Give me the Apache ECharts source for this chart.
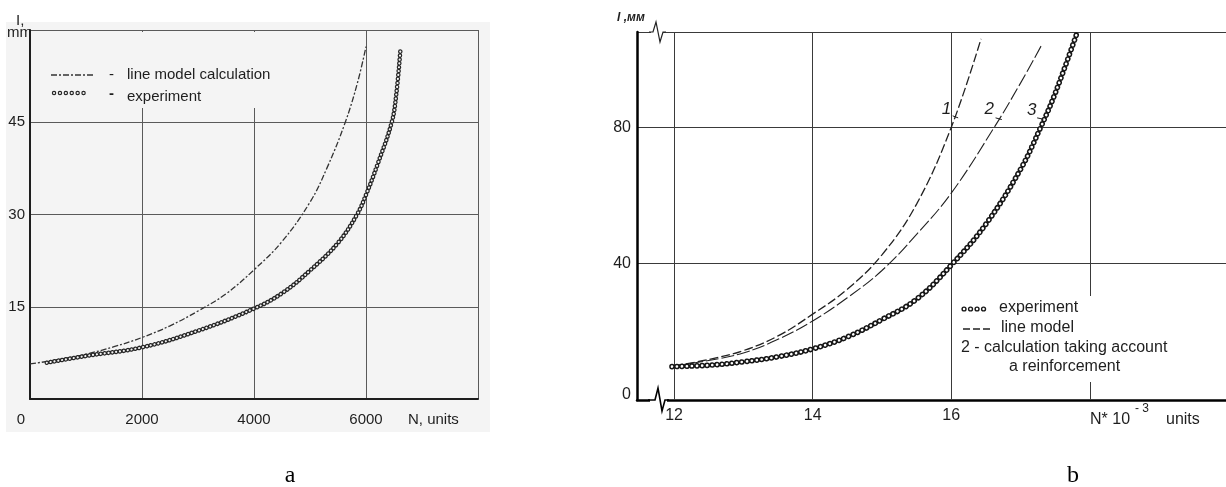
<!DOCTYPE html>
<html>
<head>
<meta charset="utf-8">
<script src="https://cdn.jsdelivr.net/npm/echarts@6/dist/echarts.min.js"></script>
<style>
  html, body { margin: 0; padding: 0; background: #fff; }
  #chart { width: 1226px; height: 487px; }
</style>
</head>
<body>
<div id="chart"></div>
<script>
// panel a: crack length l (mm) against N (units)
const modelA_N = [0, 500, 1000, 1500, 2000, 2500, 3000, 3500, 4000, 4500, 5000, 5300, 5630, 5850, 6000];
const modelA_L = [5.7, 6.4, 7.3, 8.5, 10.0, 11.9, 14.3, 17.1, 21.0, 25.6, 32.0, 37.5, 45.0, 51.5, 57.3];
const expA_N = [300, 1000, 2000, 3000, 4000, 4500, 5000, 5500, 5840, 6000, 6200, 6460, 6540, 6615];
const expA_L = [5.9, 7.0, 8.4, 11.1, 14.7, 17.2, 20.9, 25.4, 30.0, 33.2, 38.0, 45.0, 49.5, 56.8];
const ticksA_X = [0, 2000, 4000, 6000];
const ticksA_Y = [15, 30, 45];

// panel b: l (mm) against N*10^-3 units, curves 1, 2, 3
const model1_N = [12, 12.5, 13, 13.5, 14, 14.5, 15, 15.5, 16, 16.43];
const model1_L = [10, 11.9, 14.5, 18.8, 25.2, 32.5, 42.6, 57.5, 80, 106];
const model2_N = [12, 12.5, 13, 13.5, 14, 14.5, 15, 15.5, 16, 16.62, 17, 17.3];
const model2_L = [10, 11.6, 13.8, 17.8, 23.2, 30.0, 38.0, 48.6, 60.7, 80, 93, 104];
const expB_N = [11.97, 12.5, 13, 13.5, 14, 14.5, 15, 15.5, 16, 16.5, 17, 17.29, 17.5, 17.82];
const expB_L = [9.8, 10.2, 11.2, 12.7, 15.0, 18.5, 23.6, 29.6, 39.6, 51.6, 67.7, 80, 90, 108];
const ticksB_X = [12, 14, 16];
const gridB_X = [12, 14, 16, 18];
const curveTags = [['1', 15.93, 85.4], ['2', 16.55, 85.4], ['3', 17.16, 85.1]];

const FONT = 'Liberation Sans, Arial, sans-serif';
const INK = '#1e1e1e';
const PANEL_BG = '#f4f4f4';

const zip = (xs, ys) => xs.map((x, i) => [x, ys[i]]);

function ringSeries(name, xi, data, color, bg, outer, inner, gap, extra) {
  // chain of small hollow circles: dark round dots with a background-coloured core
  const base = {
    type: 'line', name, xAxisIndex: xi, yAxisIndex: xi, data,
    smooth: 0.4, showSymbol: false, silent: true, z: 3
  };
  return [
    Object.assign({}, base, {
      lineStyle: { color, width: outer, type: [0.1, gap], cap: 'round' }
    }, extra || {}),
    Object.assign({}, base, {
      name: name + '-core', z: 4,
      lineStyle: { color: bg, width: inner, type: [0.1, gap], cap: 'round' }
    })
  ];
}

const chart = echarts.init(document.getElementById('chart'), null, { renderer: 'canvas' });

const option = {
  animation: false,
  backgroundColor: '#fff',
  textStyle: { fontFamily: FONT },
  grid: [
    { left: 30, top: 30, width: 448, height: 369, outerBoundsMode: 'none' },
    { left: 637, top: 32, width: 590, height: 368, outerBoundsMode: 'none' }
  ],
  xAxis: [
    {
      type: 'value', gridIndex: 0, min: 0, max: 8000, interval: 2000,
      axisLine: { show: true, onZero: false, lineStyle: { color: INK, width: 2 } },
      axisTick: { show: false },
      splitLine: { show: true, lineStyle: { color: '#5a5a5a', width: 1 } },
      axisLabel: {
        color: INK, fontSize: 15, fontFamily: FONT, margin: 13,
        formatter: v => v === 0 ? '{z|0}' : (ticksA_X.includes(v) ? String(v) : ''),
        rich: { z: { fontSize: 15, color: INK, fontFamily: FONT, padding: [0, 18, 0, 0] } }
      }
    },
    {
      type: 'value', gridIndex: 1, min: 11.465, max: 19.98,
      axisLine: { show: true, onZero: false, lineStyle: { color: '#000', width: 2.5 } },
      axisTick: { show: false },
      splitLine: { show: false },
      axisLabel: {
        color: INK, fontSize: 16, fontFamily: FONT, margin: 8,
        customValues: ticksB_X
      }
    }
  ],
  yAxis: [
    {
      type: 'value', gridIndex: 0, min: 0, max: 60, interval: 15,
      axisLine: { show: true, onZero: false, lineStyle: { color: INK, width: 2 } },
      axisTick: { show: false },
      splitLine: { show: true, lineStyle: { color: '#5a5a5a', width: 1 } },
      axisLabel: {
        color: INK, fontSize: 15, fontFamily: FONT, margin: 5,
        formatter: v => ticksA_Y.includes(v) ? String(v) : ''
      }
    },
    {
      type: 'value', gridIndex: 1, min: 0, max: 108, interval: 40,
      axisLine: { show: true, onZero: false, lineStyle: { color: '#000', width: 2.5 } },
      axisTick: { show: false },
      splitLine: { show: true, lineStyle: { color: '#3a3a3a', width: 1 } },
      axisLabel: {
        color: INK, fontSize: 16, fontFamily: FONT, margin: 6,
        formatter: v => v === 0 ? '{z|0}' : (v % 40 === 0 ? String(v) : ''),
        rich: { z: { fontSize: 16, color: INK, fontFamily: FONT, padding: [0, 0, 10, 0] } }
      }
    }
  ],
  series: [
    {
      type: 'line', name: 'line model calculation', xAxisIndex: 0, yAxisIndex: 0,
      data: zip(modelA_N, modelA_L), smooth: 0.4,
      showSymbol: false, silent: true, z: 3,
      lineStyle: { color: '#333', width: 1.3, type: [6, 2, 2, 2] }
    },
    ...ringSeries('experiment a', 0, zip(expA_N, expA_L), '#262626', PANEL_BG, 4.6, 2.1, 3.8),
    {
      type: 'line', name: 'line model', xAxisIndex: 1, yAxisIndex: 1,
      data: zip(model1_N, model1_L), smooth: 0.4,
      showSymbol: false, silent: true, z: 3,
      lineStyle: { color: '#222', width: 1.3, type: [9, 3] },
      markPoint: {
        silent: true, symbol: 'circle', symbolSize: 1, itemStyle: { color: 'rgba(0,0,0,0)' },
        label: { show: true, position: 'inside', fontStyle: 'italic', fontSize: 17, color: INK, formatter: p => p.name },
        data: curveTags.map(t => ({ name: t[0], coord: [t[1], t[2]] }))
      },
      markLine: {
        silent: true, symbol: ['none', 'none'], label: { show: false },
        lineStyle: { color: INK, width: 1, type: 'solid' },
        data: [
          [{ coord: [16.02, 83.4] }, { coord: [16.1, 82.8] }],
          [{ coord: [16.64, 82.8] }, { coord: [16.73, 82.3] }],
          [{ coord: [17.24, 82.8] }, { coord: [17.33, 82.4] }]
        ]
      }
    },
    {
      type: 'line', name: 'calculation taking account a reinforcement', xAxisIndex: 1, yAxisIndex: 1,
      data: zip(model2_N, model2_L), smooth: 0.4,
      showSymbol: false, silent: true, z: 3,
      lineStyle: { color: '#222', width: 1.1, type: [13, 3] }
    },
    ...ringSeries('experiment b', 1, zip(expB_N, expB_L), '#161616', '#fff', 5.6, 2.6, 4.9, {
      markLine: {
        silent: true, z: 1, symbol: ['none', 'none'], label: { show: false },
        lineStyle: { color: '#3a3a3a', width: 1, type: 'solid' },
        data: gridB_X.map(v => ({ xAxis: v }))
      }
    })
  ],
  graphic: [
    // panel a background
    { type: 'rect', z: -1, silent: true, shape: { x: 6, y: 22, width: 484, height: 410 }, style: { fill: PANEL_BG } },
    // panel a legend
    { type: 'rect', z: 6, silent: true, shape: { x: 45, y: 32, width: 232, height: 76 }, style: { fill: PANEL_BG } },
    { type: 'line', z: 7, silent: true, shape: { x1: 51, y1: 75, x2: 95, y2: 75 }, style: { stroke: '#333', lineWidth: 1.3, lineDash: [6, 2, 2, 2] } },
    { type: 'text', z: 7, silent: true, style: { x: 109, y: 75, text: '-', fontSize: 15, fontFamily: FONT, fill: INK, verticalAlign: 'middle' } },
    { type: 'text', z: 7, silent: true, style: { x: 127, y: 75, text: 'line model calculation', fontSize: 15, fontFamily: FONT, fill: INK, verticalAlign: 'middle' } },
    { type: 'line', z: 7, silent: true, shape: { x1: 54, y1: 93, x2: 89, y2: 93 }, style: { stroke: '#262626', lineWidth: 4.4, lineDash: [0.1, 5.8], lineCap: 'round' } },
    { type: 'line', z: 8, silent: true, shape: { x1: 54, y1: 93, x2: 89, y2: 93 }, style: { stroke: PANEL_BG, lineWidth: 2.1, lineDash: [0.1, 5.8], lineCap: 'round' } },
    { type: 'text', z: 7, silent: true, style: { x: 109, y: 94, text: '-', fontSize: 15, fontWeight: 'bold', fontFamily: FONT, fill: INK, verticalAlign: 'middle' } },
    { type: 'text', z: 7, silent: true, style: { x: 127, y: 97, text: 'experiment', fontSize: 15, fontFamily: FONT, fill: INK, verticalAlign: 'middle' } },
    // panel a axis titles
    { type: 'text', z: 2, silent: true, style: { x: 16, y: 13, text: 'I,', fontSize: 15, fontFamily: FONT, fill: INK } },
    { type: 'text', z: 2, silent: true, style: { x: 7, y: 25, text: 'mm', fontSize: 15, fontFamily: FONT, fill: INK } },
    { type: 'text', silent: true, style: { x: 408, y: 420, text: 'N, units', fontSize: 15, fontFamily: FONT, fill: INK, verticalAlign: 'middle' } },
    { type: 'text', silent: true, style: { x: 290, y: 476, text: 'a', fontSize: 24, fontFamily: 'Liberation Serif, serif', fill: '#000', align: 'center', verticalAlign: 'middle' } },

    // panel b legend
    { type: 'rect', z: 6, silent: true, shape: { x: 956, y: 296, width: 262, height: 86 }, style: { fill: '#fff' } },
    { type: 'line', z: 7, silent: true, shape: { x1: 964, y1: 309, x2: 990, y2: 309 }, style: { stroke: '#161616', lineWidth: 5.2, lineDash: [0.1, 6.4], lineCap: 'round' } },
    { type: 'line', z: 8, silent: true, shape: { x1: 964, y1: 309, x2: 990, y2: 309 }, style: { stroke: '#fff', lineWidth: 2.4, lineDash: [0.1, 6.4], lineCap: 'round' } },
    { type: 'text', z: 7, silent: true, style: { x: 999, y: 308, text: 'experiment', fontSize: 16, fontFamily: FONT, fill: INK, verticalAlign: 'middle' } },
    { type: 'line', z: 7, silent: true, shape: { x1: 963, y1: 329, x2: 991, y2: 329 }, style: { stroke: '#222', lineWidth: 1.3, lineDash: [7, 3] } },
    { type: 'text', z: 7, silent: true, style: { x: 1001, y: 328, text: 'line model', fontSize: 16, fontFamily: FONT, fill: INK, verticalAlign: 'middle' } },
    { type: 'text', z: 7, silent: true, style: { x: 961, y: 348, text: '2 - calculation taking account', fontSize: 16, fontFamily: FONT, fill: INK, verticalAlign: 'middle' } },
    { type: 'text', z: 7, silent: true, style: { x: 1009, y: 367, text: 'a reinforcement', fontSize: 16, fontFamily: FONT, fill: INK, verticalAlign: 'middle' } },
    // panel b axis titles
    { type: 'text', silent: true, style: { x: 617, y: 18, text: 'l ,мм', fontSize: 12, fontStyle: 'italic', fontWeight: 'bold', fontFamily: FONT, fill: INK, verticalAlign: 'middle' } },
    { type: 'text', silent: true, style: { x: 1090, y: 420, text: 'N* 10', fontSize: 16, fontFamily: FONT, fill: INK, verticalAlign: 'middle' } },
    { type: 'text', silent: true, style: { x: 1135, y: 409, text: '- 3', fontSize: 12, fontFamily: FONT, fill: INK, verticalAlign: 'middle' } },
    { type: 'text', silent: true, style: { x: 1166, y: 420, text: 'units', fontSize: 16, fontFamily: FONT, fill: INK, verticalAlign: 'middle' } },
    { type: 'text', silent: true, style: { x: 1073, y: 476, text: 'b', fontSize: 24, fontFamily: 'Liberation Serif, serif', fill: '#000', align: 'center', verticalAlign: 'middle' } },
    // axis break marks
    { type: 'rect', z: 10, silent: true, shape: { x: 651, y: 27, width: 12, height: 10 }, style: { fill: '#fff' } },
    { type: 'polyline', z: 11, silent: true, shape: { points: [[649, 32], [653, 32], [656, 22], [660, 42], [663, 32], [666, 32]] }, style: { stroke: '#222', lineWidth: 1.2, fill: null } },
    { type: 'rect', z: 10, silent: true, shape: { x: 650, y: 395, width: 17, height: 10 }, style: { fill: '#fff' } },
    { type: 'polyline', z: 11, silent: true, shape: { points: [[648, 400], [655, 400], [658, 388], [662, 411], [665, 400], [669, 400]] }, style: { stroke: '#000', lineWidth: 1.6, fill: null } }
  ]
};

chart.setOption(option);
</script>
</body>
</html>
